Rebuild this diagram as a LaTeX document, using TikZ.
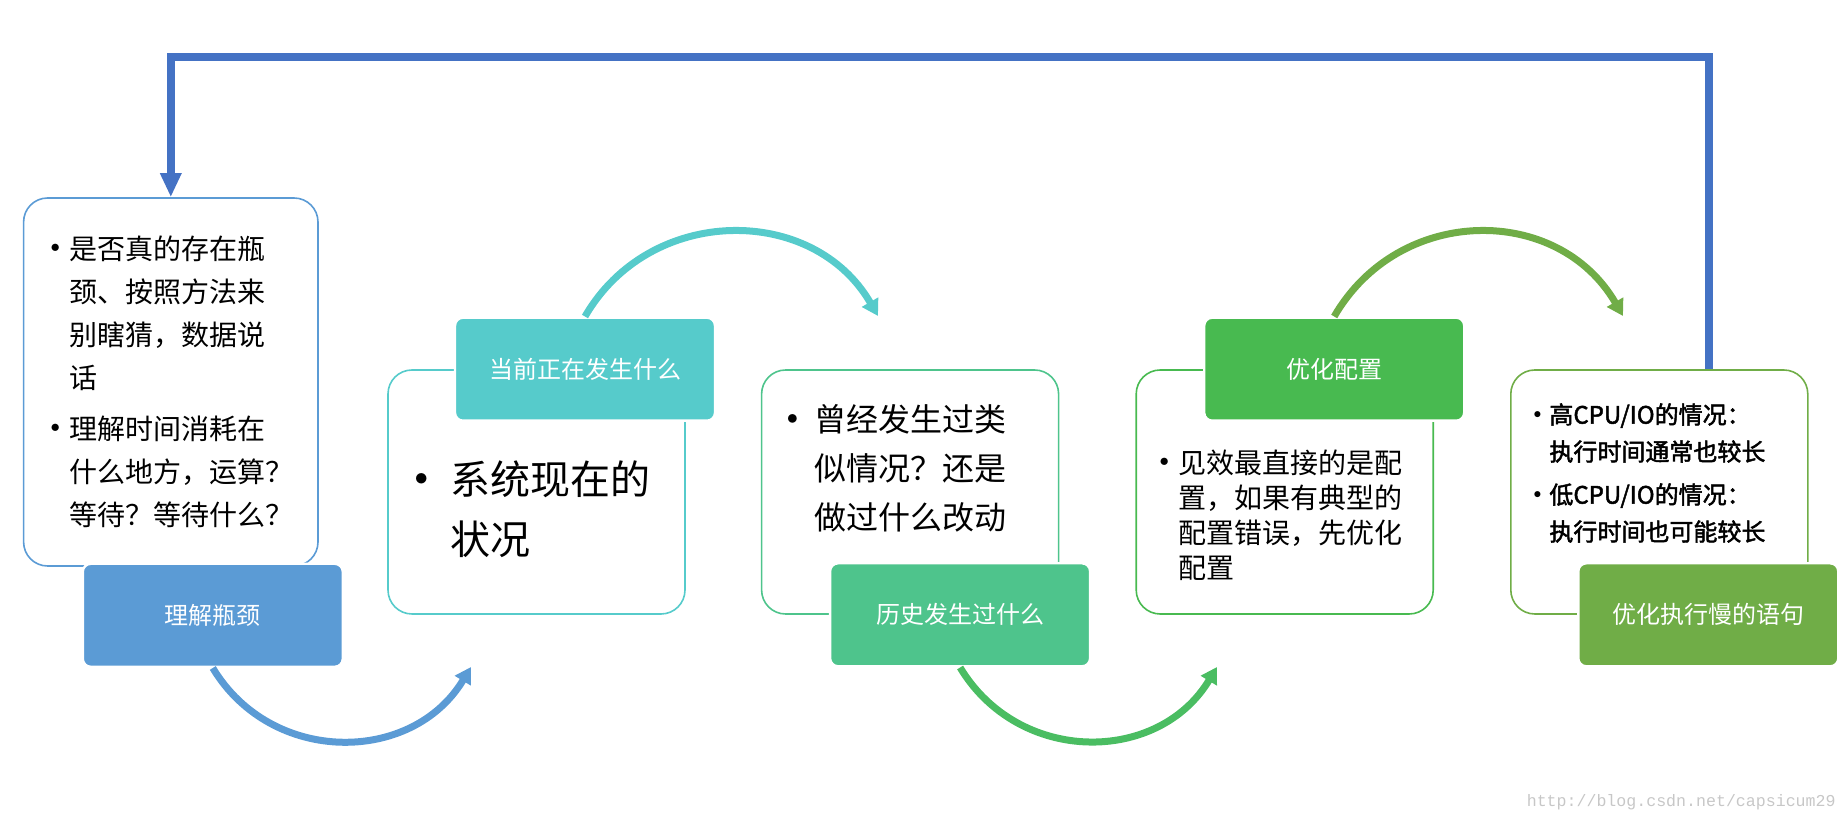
\documentclass[tikz,border=0pt]{standalone}
\usepackage{fontspec}
\setmainfont{Noto Sans CJK SC}[AutoFakeBold=2]
\newfontfamily\wmfont{Liberation Mono}
\usetikzlibrary{arrows.meta,positioning}
\definecolor{stepblue}{HTML}{5B9BD5}
\definecolor{stepteal}{HTML}{56CBCB}
\definecolor{stepmint}{HTML}{4EC48C}
\definecolor{stepgreen}{HTML}{48BA50}
\definecolor{stepolive}{HTML}{70AD47}
\definecolor{arcgreen}{HTML}{4ABD62}
\definecolor{loopblue}{HTML}{4472C4}
\newcommand\bul[1]{\llap{\makebox[#1][c]{\raisebox{0.22em}{\scalebox{0.65}{$\bullet$}}}}}

\begin{document}
\begin{tikzpicture}[x=0.5pt,y=-0.5pt,
  box/.style={draw=#1,rounded corners=12pt,line width=0.8pt,minimum width=148.5pt,
    minimum height=122pt,inner sep=0},
  lab/.style={fill=#1,draw=white,line width=1.2pt,rounded corners=4pt,text=white,
    minimum width=130pt,minimum height=51.5pt,inner sep=0,font=\fontsize{12}{14}\selectfont},
  txt/.style={anchor=north west,inner sep=0,align=left},
  flow/.style={line width=3.5pt,-{Triangle[length=8pt,width=9pt]}},
  loopline/.style={loopblue,line width=4pt,-{Triangle[length=12pt,width=10pt]}}]
  \useasboundingbox (0,0) rectangle (1848,822);
  \node[box=stepblue,minimum width=147.2pt,minimum height=184pt] (b1) at (170.8,382) {};
  \node[box=stepteal] (b2) at (536.5,492) {};
  \node[box=stepmint,right=37.5pt of b2] (b3) {};
  \node[box=stepgreen,right=38pt of b3] (b4) {};
  \node[box=stepolive,right=38pt of b4] (b5) {};
  \node[lab=stepblue] (l1) at ([xshift=21pt,yshift=-24.25pt]b1.south) {理解瓶颈};
  \node[lab=stepteal] (l2) at ([xshift=24.25pt]b2.north) {当前正在发生什么};
  \node[lab=stepmint] (l3) at ([xshift=25pt]b3.south) {历史发生过什么};
  \node[lab=stepgreen] (l4) at ([xshift=24.75pt]b4.north) {优化配置};
  \node[lab=stepolive] (l5) at ([xshift=24.5pt]b5.south) {优化执行慢的语句};
  \node[txt,font=\fontsize{14}{21.5}\selectfont] (t1) at (69,235)
    {\bul{14pt}是否真的存在瓶\\颈、按照方法来\\别瞎猜，数据说\\话\\[4pt]
     \bul{14pt}理解时间消耗在\\什么地方，运算？\\等待？等待什么？};
  \node[txt,font=\fontsize{20}{30}\selectfont] (t2) at (450,460) {\bul{29pt}系统现在的\\状况};
  \node[txt,font=\fontsize{16}{24.5}\selectfont] (t3) at (814,404)
    {\bul{22pt}曾经发生过类\\似情况？还是\\做过什么改动};
  \node[txt,font=\fontsize{14}{17.5}\selectfont] (t4) at (1178,449)
    {\bul{14pt}见效最直接的是配\\置，如果有典型的\\配置错误，先优化\\配置};
  \node[txt,font=\bfseries\fontsize{12}{18.5}\selectfont] (t5) at (1549,403)
    {\bul{12pt}高CPU/IO的情况：\\执行时间通常也较长\\[3pt]
     \bul{12pt}低CPU/IO的情况：\\执行时间也可能较长};
  \coordinate (a1) at (471,667);
  \coordinate (a2) at (878,316);
  \coordinate (a3) at (1217,667);
  \coordinate (a4) at (1623,316);
  \coordinate (top) at (900,57);
  \draw[flow,stepblue] (l1.south) .. controls +(58.6,97.5) and +(-58.6,97.5) .. (a1);
  \draw[flow,stepteal] (l2.north) .. controls +(64.8,-112.1) and +(-64.8,-112.1) .. (a2);
  \draw[flow,arcgreen] (l3.south) .. controls +(58.6,97.5) and +(-58.6,97.5) .. (a3);
  \draw[flow,stepolive] (l4.north) .. controls +(64.8,-112.1) and +(-64.8,-112.1) .. (a4);
  \draw[loopline] ([xshift=25pt]b5.north) |- (top) -| (b1.north);
  \node[anchor=east,inner sep=0,text=black!22,font={\wmfont\fontsize{8.3}{10}\selectfont}] (wm)
    at (1836,802) {http://blog.csdn.net/capsicum29};
\end{tikzpicture}
\end{document}
